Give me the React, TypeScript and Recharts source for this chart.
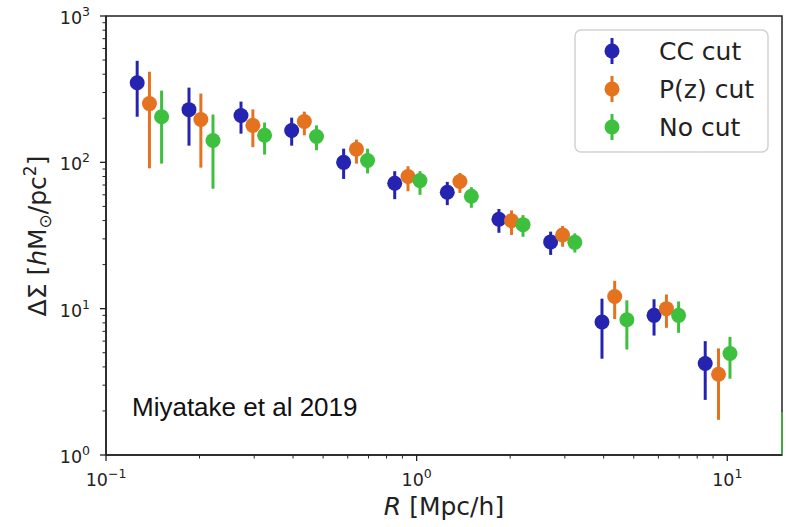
import React from 'react';
import { ScatterChart, Scatter, XAxis, YAxis, ErrorBar, ReferenceArea, ReferenceLine, Legend, Customized } from 'recharts';

// R [Mpc/h] for each series (points are shifted slightly so they don't overlap)
const ccR = [0.126, 0.185, 0.272, 0.396, 0.582, 0.85, 1.255, 1.84, 2.7, 3.95, 5.81, 8.49];
const pzR = [0.138, 0.202, 0.297, 0.435, 0.64, 0.938, 1.378, 2.02, 2.95, 4.34, 6.37, 9.37];
const noR = [0.151, 0.221, 0.324, 0.476, 0.695, 1.025, 1.5, 2.2, 3.23, 4.75, 6.97, 10.2];

// Delta Sigma values with lower / upper ends of the error bars
const ccDS = [350, 229, 209, 165, 100, 72, 62.5, 40.8, 28.6, 8.1, 9.0, 4.22];
const ccLo = [205, 130, 157, 130, 77, 56, 51, 33, 23.3, 4.55, 6.55, 2.38];
const ccHi = [494, 324, 260, 202, 124, 87, 73.5, 48, 33.6, 11.7, 11.6, 6.0];

const pzDS = [252, 196, 179, 190, 123, 80, 74, 39.9, 31.9, 12.1, 10.0, 3.56];
const pzLo = [91, 92, 127, 153, 98, 63.5, 61.8, 31.9, 26.5, 8.5, 7.4, 1.74];
const pzHi = [416, 295, 230, 222, 143, 94, 84.6, 46.9, 36.7, 15.5, 12.5, 5.35];

const noDS = [205, 141, 153, 150, 103, 75, 58.7, 37.5, 28.4, 8.4, 9.0, 4.94];
const noLo = [98, 66, 113, 121, 84, 60, 48.9, 31, 24.2, 5.26, 6.84, 3.32];
const noHi = [309, 212, 187, 179, 124, 87, 67.6, 43.6, 32.7, 11.4, 11.2, 6.42];

const names = ['CC cut', 'P(z) cut', 'No cut'];
const colors = ['#2424b0', '#e4721f', '#3dc03d'];

const xTicks = [0.1, 0.2, 0.3, 0.4, 0.5, 0.6, 0.7, 0.8, 0.9, 1, 2, 3, 4, 5, 6, 7, 8, 9, 10];
const yTicks = [1, 2, 3, 4, 5, 6, 7, 8, 9, 10, 20, 30, 40, 50, 60, 70, 80, 90, 100, 200, 300, 400, 500, 600, 700, 800, 900, 1000];

const build = (rs: number[], ds: number[], lo: number[], hi: number[]) =>
  rs.map((r, i) => ({ r, ds: ds[i], err: [ds[i] - lo[i], hi[i] - ds[i]] }));

const series = [
  build(ccR, ccDS, ccLo, ccHi),
  build(pzR, pzDS, pzLo, pzHi),
  build(noR, noDS, noLo, noHi),
];

const ink = '#222';
const font = '"DejaVu Sans", sans-serif';

const expOf = (v: number) => {
  const e = Math.log10(v);
  const r = Math.round(e);
  return Math.abs(e - r) < 1e-9 ? r : null;
};
const expText = (e: number) => (e < 0 ? '\u2212' + Math.abs(e) : String(e));

const XTick = (props: any) => {
  const { x, y, payload } = props;
  const e = expOf(payload.value);
  return (
    <g>
      <line x1={x} x2={x} y1={y} y2={y + (e !== null ? 6 : 3.5)} stroke={ink} strokeWidth={e !== null ? 1.3 : 1} />
      {e !== null && (
        <text x={x} y={y + 31} textAnchor="middle" fontSize={17.5} fill={ink} fontFamily={font}>
          10<tspan dy={-8} fontSize={12.5}>{expText(e)}</tspan>
        </text>
      )}
    </g>
  );
};

const YTick = (props: any) => {
  const { x, y, payload } = props;
  const e = expOf(payload.value);
  return (
    <g>
      <line x1={x - (e !== null ? 6 : 3.5)} x2={x} y1={y} y2={y} stroke={ink} strokeWidth={e !== null ? 1.3 : 1} />
      {e !== null && (
        <text x={x - 16} y={y + 8} textAnchor="end" fontSize={17.5} fill={ink} fontFamily={font}>
          10<tspan dy={-8} fontSize={12.5}>{expText(e)}</tspan>
        </text>
      )}
    </g>
  );
};

const dot = (color: string) => (p: any) => <circle cx={p.cx} cy={p.cy} r={7.5} fill={color} />;

// legend keeps the plotting order (Recharts would sort it by name)
const LegendBox = () => (
  <svg width={196} height={125} style={{ display: 'block' }}>
    <rect x={1} y={1} width={193} height={122} rx={6} fill="rgba(255,255,255,0.85)" stroke="#d2d2d2" strokeWidth={1.5} />
    {names.map((n, i) => {
      const cy = 22 + i * 38;
      return (
        <g key={n}>
          <line x1={38} x2={38} y1={cy - 13} y2={cy + 13} stroke={colors[i]} strokeWidth={3} />
          <circle cx={38} cy={cy} r={7.5} fill={colors[i]} />
          <text x={85} y={cy + 9} fontSize={25} fill={ink} fontFamily={font}>{n}</text>
        </g>
      );
    })}
  </svg>
);

const App = () => (
  <div style={{ position: 'absolute', left: 0, top: 0, background: '#fff', fontFamily: font }}>
    <ScatterChart width={786} height={527} margin={{ top: 16, right: 4, bottom: 0, left: 0 }}>
      <XAxis
        dataKey="r"
        type="number"
        scale="log"
        domain={[0.1, 15]}
        allowDataOverflow
        ticks={xTicks}
        interval={0}
        height={72}
        tickSize={0}
        tickMargin={0}
        tickLine={false}
        axisLine={{ stroke: ink, strokeWidth: 1.5 }}
        tick={<XTick />}
        label={{
          content: () => (
            <text x={444} y={515} textAnchor="middle" fontSize={25} fill={ink} fontFamily={font}>
              <tspan fontStyle="italic">R</tspan> [Mpc/h]
            </text>
          ),
        }}
      />
      <YAxis
        dataKey="ds"
        type="number"
        scale="log"
        domain={[1, 1000]}
        allowDataOverflow
        ticks={yTicks}
        interval={0}
        width={106}
        tickSize={0}
        tickMargin={0}
        tickLine={false}
        axisLine={{ stroke: ink, strokeWidth: 1.5 }}
        tick={<YTick />}
        label={{
          content: () => (
            <text transform="translate(46,236) rotate(-90)" textAnchor="middle" fontSize={25} fill={ink} fontFamily={font}>
              ΔΣ [<tspan fontStyle="italic">h</tspan>M<tspan fontSize={17} dy={5}>⊙</tspan>
              <tspan dy={-5}>/pc</tspan>
              <tspan fontSize={17} dy={-10}>2</tspan>
              <tspan dy={10}>]</tspan>
            </text>
          ),
        }}
      />
      <ReferenceArea x1={0.1} x2={15} y1={1} y2={1000} fill="none" stroke={ink} strokeWidth={1.5} />
      <ReferenceLine segment={[{ x: 15, y: 1 }, { x: 15, y: 1.96 }]} stroke="#3dc03d" strokeWidth={1.5} />
      {series.map((data, i) => (
        <Scatter
          key={names[i]}
          name={names[i]}
          data={data}
          fill={colors[i]}
          shape={dot(colors[i])}
          isAnimationActive={false}
        >
          <ErrorBar dataKey="err" direction="y" width={0} stroke={colors[i]} strokeWidth={3} isAnimationActive={false} />
        </Scatter>
      ))}
      <Legend
        layout="vertical"
        align="center"
        verticalAlign="middle"
        content={<LegendBox />}
        wrapperStyle={{ position: 'absolute', left: 574, top: 29, width: 196, height: 125 }}
      />
      <Customized
        component={() => (
          <text x={132} y={416} fontSize={26} fill="#111" fontFamily='"Liberation Sans", Arial, sans-serif'>
            Miyatake et al 2019
          </text>
        )}
      />
    </ScatterChart>
  </div>
);

export default App;
